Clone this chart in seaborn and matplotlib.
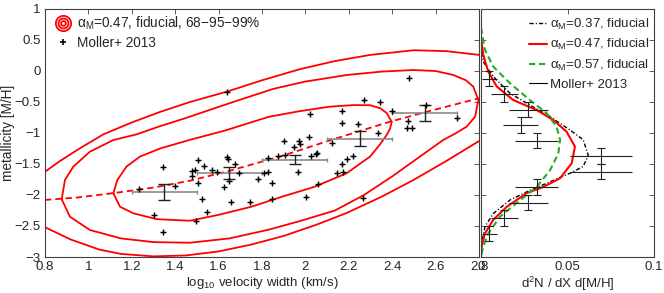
import numpy as np
import pandas as pd
import matplotlib
matplotlib.use("Agg")
import matplotlib.pyplot as plt
import seaborn as sns
from matplotlib.lines import Line2D
from matplotlib.legend_handler import HandlerTuple

# ---------------- data ----------------
# Moller+ 2013 individual DLAs (log10 velocity width, metallicity)
moller_logv = [1.233, 1.342, 1.399, 1.302, 1.342, 1.506, 1.534, 1.479, 1.491, 1.479,
               1.571, 1.593, 1.506, 1.522, 1.545, 1.494, 1.637, 1.645, 1.676, 1.694,
               1.648, 1.626, 1.657, 1.745, 1.809, 1.829, 1.783, 1.845, 1.845, 1.826,
               1.872, 1.906, 1.901, 1.949, 1.972, 1.975, 2.018, 1.965, 2.026, 2.049,
               2.055, 2.059, 2.003, 2.121, 2.477, 2.271, 2.344, 2.167, 2.400, 2.170,
               2.244, 2.474, 2.467, 2.490, 2.336, 2.697, 2.556, 2.221, 2.190, 2.167,
               2.147, 2.175, 2.264, 1.637, 2.021]
moller_mh = [-1.908, -1.544, -1.855, -2.323, -2.592, -1.435, -1.532, -1.608, -1.597, -1.689,
             -1.597, -1.634, -1.811, -2.065, -2.269, -2.419, -1.382, -1.419, -1.500, -1.640,
             -1.769, -1.866, -2.108, -2.108, -1.650, -1.624, -1.747, -1.811, -2.065, -1.408,
             -1.371, -1.355, -1.124, -1.221, -1.129, -1.177, -1.069, -1.634, -1.366, -1.339,
             -1.318, -1.827, -2.027, -1.156, -0.118, -0.463, -0.495, -0.650, -0.645, -0.839,
             -0.850, -0.806, -0.915, -0.915, -1.005, -0.753, -0.548, -1.366, -1.424, -1.505,
             -1.650, -1.624, -2.053, -0.334, -0.698]

# Binned Moller means
bin_center = [1.35, 1.65, 1.95, 2.25, 2.55]
bin_halfwidth = [0.15, 0.15, 0.15, 0.15, 0.15]
bin_mean = [-1.95, -1.65, -1.43, -1.09, -0.675]
bin_err = [0.135, 0.10, 0.07, 0.125, 0.125]

# Model contours (alpha_M = 0.47), 68 / 95 / 99 %
c68_x = [1.115, 1.133, 1.176, 1.238, 1.33, 1.468, 1.63, 1.83, 1.97, 2.113, 2.22, 2.298,
         2.345, 2.375, 2.398, 2.39, 2.375, 2.34, 2.298, 2.19, 2.04, 1.89, 1.75, 1.60,
         1.468, 1.315, 1.207, 1.146, 1.115]
c68_y = [-1.973, -1.76, -1.54, -1.38, -1.25, -1.11, -0.96, -0.74, -0.65, -0.575, -0.55,
         -0.552, -0.60, -0.68, -0.82, -0.93, -1.03, -1.20, -1.38, -1.65, -1.87, -2.03,
         -2.19, -2.32, -2.415, -2.39, -2.295, -2.19, -1.973]
c95_x = [0.877, 0.892, 0.930, 1.007, 1.115, 1.223, 1.33, 1.445, 1.65, 1.85, 2.0, 2.19,
         2.35, 2.497, 2.60, 2.682, 2.74, 2.774, 2.797, 2.782, 2.743, 2.69, 2.635, 2.52,
         2.40, 2.27, 2.136, 1.975, 1.83, 1.65, 1.468, 1.30, 1.15, 1.007, 0.915, 0.877]
c95_y = [-2.07, -1.758, -1.544, -1.302, -1.113, -1.021, -0.89, -0.763, -0.52, -0.29,
         -0.17, -0.065, -0.01, 0.016, 0.0, -0.065, -0.15, -0.253, -0.468, -0.737, -0.898,
         -1.01, -1.113, -1.40, -1.70, -2.0, -2.25, -2.42, -2.56, -2.70, -2.77, -2.76,
         -2.70, -2.565, -2.35, -2.07]
c99_top_x = [0.8, 0.87, 0.95, 1.07, 1.20, 1.33, 1.468, 1.637, 1.80, 1.975, 2.136, 2.30,
             2.50, 2.65, 2.8]
c99_top_y = [-1.624, -1.45, -1.27, -1.02, -0.83, -0.66, -0.50, -0.334, -0.15, 0.03, 0.16,
             0.26, 0.335, 0.32, 0.26]
c99_bot_x = [0.8, 0.92, 1.05, 1.15, 1.30, 1.45, 1.60, 1.75, 1.90, 2.05, 2.19, 2.35,
             2.497, 2.65, 2.8]
c99_bot_y = [-2.52, -2.72, -2.88, -2.95, -2.99, -2.975, -2.91, -2.80, -2.66, -2.48,
             -2.29, -2.03, -1.76, -1.45, -1.13]
mean_x = [0.8, 0.95, 1.115, 1.3, 1.468, 1.65, 1.883, 2.121, 2.39, 2.6, 2.8]
mean_y = [-2.08, -2.04, -1.97, -1.88, -1.77, -1.61, -1.38, -1.11, -0.817, -0.62, -0.44]

# Metallicity distributions (right panel)
a037_x = [0.0, 0.0013, 0.0071, 0.0168, 0.0302, 0.040, 0.0514, 0.0591, 0.062, 0.0591,
          0.0514, 0.038, 0.0264, 0.0168, 0.0071, 0.0023, 0.0004, 0.0]
a037_y = [0.45, 0.15, -0.09, -0.36, -0.58, -0.74, -0.95, -1.11, -1.36, -1.54, -1.65,
          -1.81, -1.95, -2.08, -2.30, -2.51, -2.78, -3.0]
a047_x = [0.0, 0.0013, 0.0042, 0.0091, 0.0187, 0.0322, 0.0418, 0.0495, 0.0543, 0.0524,
          0.0457, 0.036, 0.0264, 0.0149, 0.0071, 0.0023, 0.0004, 0.0]
a047_y = [0.55, 0.26, -0.01, -0.25, -0.47, -0.63, -0.79, -0.98, -1.22, -1.49, -1.73,
          -1.87, -1.97, -2.19, -2.40, -2.62, -2.83, -3.0]
a057_x = [0.0, 0.0023, 0.0071, 0.0168, 0.0283, 0.038, 0.0437, 0.0457, 0.0447, 0.0399,
          0.0322, 0.0206, 0.011, 0.0042, 0.0013, 0.0]
a057_y = [0.70, 0.34, 0.07, -0.20, -0.47, -0.68, -0.90, -1.11, -1.33, -1.60, -1.87,
          -2.13, -2.35, -2.62, -2.83, -3.0]

# Moller+ 2013 metallicity distribution
dist_mh = [-0.125, -0.375, -0.625, -0.875, -1.125, -1.375, -1.625, -1.875, -2.125, -2.375, -2.625]
dist_val = [0.0048, 0.0135, 0.0274, 0.0229, 0.0322, 0.0692, 0.0692, 0.0322, 0.0274, 0.0135, 0.0048]
dist_err = [0.0043, 0.0077, 0.0113, 0.0103, 0.0123, 0.0178, 0.0178, 0.0123, 0.0113, 0.0077, 0.0043]
dist_mh_half = 0.125

# ---------------- style ----------------
sns.set_theme(style="white")
plt.rcParams["font.family"] = ["Liberation Sans", "DejaVu Sans"]
plt.rcParams["mathtext.fontset"] = "custom"
plt.rcParams["mathtext.rm"] = "Liberation Sans"
plt.rcParams["axes.unicode_minus"] = True
plt.rcParams["xtick.direction"] = "in"
plt.rcParams["ytick.direction"] = "in"

RED = "#ff0000"
GREEN = "#1fb01f"
FS = 9.5

fig = plt.figure(figsize=(6.64, 2.93), dpi=100)
ax = fig.add_axes([45 / 664, 1 - 257 / 293, 434 / 664, 248 / 293])
ax2 = fig.add_axes([481 / 664, 1 - 257 / 293, 173 / 664, 248 / 293], sharey=ax)

# ---------------- main panel ----------------
def draw(axis, xs, ys, **kw):
    d = pd.DataFrame({"x": xs, "y": ys})
    sns.lineplot(data=d, x="x", y="y", ax=axis, sort=False, estimator=None, **kw)

draw(ax, c99_top_x, c99_top_y, color=RED, lw=1.3)
draw(ax, c99_bot_x, c99_bot_y, color=RED, lw=1.3)
draw(ax, c95_x, c95_y, color=RED, lw=1.3)
draw(ax, c68_x, c68_y, color=RED, lw=1.3)
draw(ax, mean_x, mean_y, color=RED, lw=1.3, dashes=(3.5, 2.2))

ax.errorbar(bin_center, bin_mean, xerr=bin_halfwidth, fmt="none", ecolor="#8a8a8a",
            elinewidth=1.2, capsize=1.5, capthick=1.0, zorder=3)
ax.errorbar(bin_center, bin_mean, yerr=bin_err, fmt="none", ecolor="#202020",
            elinewidth=1.0, capsize=4, capthick=1.0, zorder=4)

sns.scatterplot(x=moller_logv, y=moller_mh, ax=ax, marker="+", s=15, color="black",
                linewidth=1.05, zorder=5)

ax.set_xlim(0.8, 2.8)
ax.set_ylim(-3, 1)
ax.set_xticks(np.arange(0.8, 2.81, 0.2))
ax.set_xticklabels(["0.8", "1", "1.2", "1.4", "1.6", "1.8", "2", "2.2", "2.4", "2.6", "2.8"])
ax.set_yticks(np.arange(-3, 1.01, 0.5))
ax.set_yticklabels(["\u22123", "\u22122.5", "\u22122", "\u22121.5", "\u22121", "\u22120.5", "0", "0.5", "1"])
ax.tick_params(axis="both", labelsize=FS, length=3.5, width=0.6, color="#404040",
               top=True, right=True, pad=3)
ax.set_xlabel("log$_\\mathregular{10}$ velocity width (km/s)", fontsize=FS, labelpad=1)
ax.set_ylabel("metallicity [M/H]", fontsize=FS + 0.3, labelpad=0)

rings = tuple(Line2D([], [], ls="none", marker="o", markersize=s, markerfacecolor="none",
                     markeredgecolor=RED, markeredgewidth=1.3) for s in (11, 7.2, 3.4))
plus = Line2D([], [], ls="none", marker="+", markersize=4, color="black", markeredgewidth=1.2)
leg = ax.legend([rings, plus], ["\u03b1$_\\mathregular{M}$=0.47, fiducial, 68\u221295\u221299%",
                                "Moller+ 2013"],
                handler_map={tuple: HandlerTuple(ndivide=1, pad=0)},
                loc="upper left", frameon=False, fontsize=FS + 0.3, handlelength=1.4,
                handletextpad=0.35, labelspacing=0.3, borderaxespad=0.2,
                bbox_to_anchor=(0.0, 1.01))

# ---------------- right panel ----------------
draw(ax2, a037_x, a037_y, color="black", lw=1.0, dashes=(3, 1.5, 0.8, 1.5))
draw(ax2, a047_x, a047_y, color=RED, lw=1.5)
draw(ax2, a057_x, a057_y, color=GREEN, lw=1.5, dashes=(3, 1.8))

ax2.errorbar(dist_val, dist_mh, xerr=dist_err, fmt="none", ecolor="#222222",
             elinewidth=0.8, capsize=0, zorder=4)
ax2.errorbar(dist_val, dist_mh, yerr=dist_mh_half, fmt="none", ecolor="#222222",
             elinewidth=0.8, capsize=3, capthick=0.8, zorder=4)

ax2.set_xlim(0, 0.1)
ax2.set_xticks([0, 0.05, 0.1])
ax2.set_xticklabels(["0", "0.05", "0.1"])
ax2.tick_params(axis="both", labelsize=FS, length=3.5, width=0.6, color="#404040",
                top=True, right=True, left=True, pad=3)
ax2.tick_params(axis="y", labelleft=False)
ax2.set_xlabel("d$^\\mathregular{2}$N / dX d[M/H]", fontsize=FS, labelpad=1)
ax2.set_ylabel("")

handles2 = [Line2D([], [], color="black", lw=1.0, dashes=(3, 1.5, 0.8, 1.5)),
            Line2D([], [], color=RED, lw=1.5),
            Line2D([], [], color=GREEN, lw=1.5, dashes=(3, 1.8)),
            Line2D([], [], color="black", lw=0.8)]
labels2 = ["\u03b1$_\\mathregular{M}$=0.37, fiducial",
           "\u03b1$_\\mathregular{M}$=0.47, fiducial",
           "\u03b1$_\\mathregular{M}$=0.57, fiducial",
           "Moller+ 2013"]
ax2.legend(handles2, labels2, loc="upper right", frameon=False, fontsize=FS,
           handlelength=1.4, handletextpad=0.25, labelspacing=0.42, borderaxespad=0.0,
           bbox_to_anchor=(1.005, 0.99))

for a in (ax, ax2):
    for sp in a.spines.values():
        sp.set_color("#404040")
        sp.set_linewidth(0.8)
    a.set_facecolor("white")

fig.savefig("out.png", dpi=100, facecolor="white")
